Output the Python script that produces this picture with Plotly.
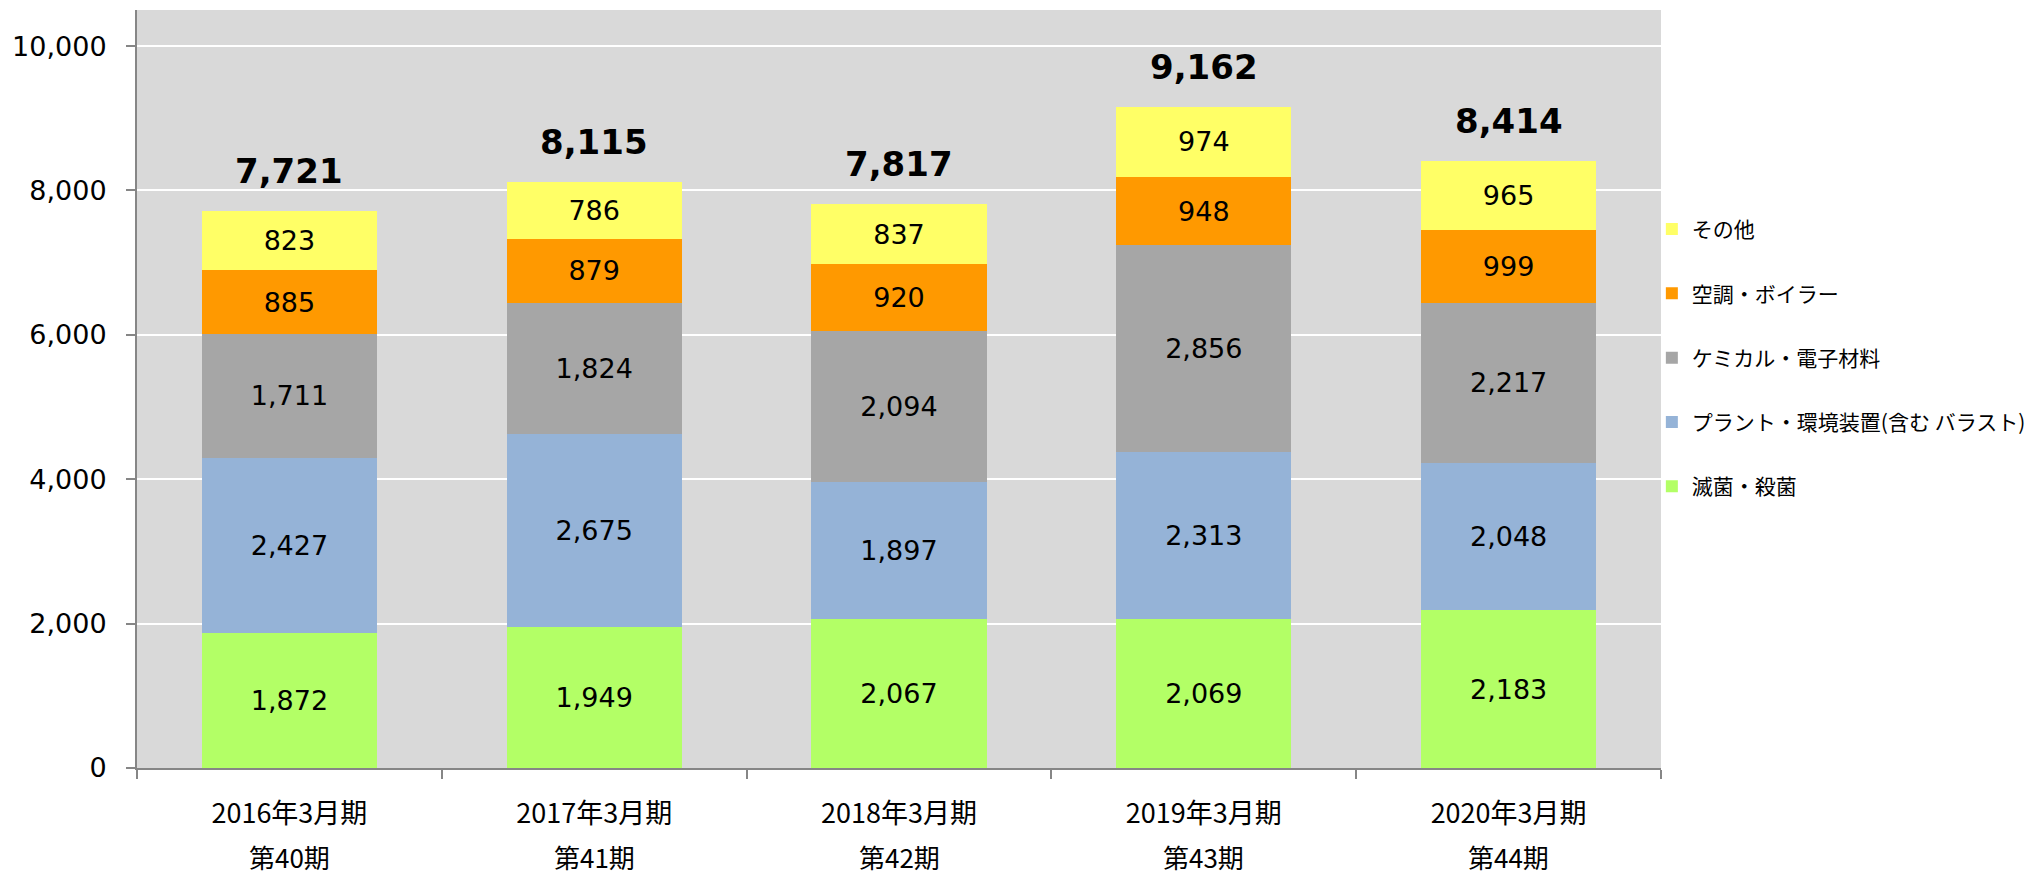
import plotly.graph_objects as go

categories = ["2016年3月期", "2017年3月期", "2018年3月期", "2019年3月期", "2020年3月期"]
periods = ["第40期", "第41期", "第42期", "第43期", "第44期"]

series_names = ["滅菌・殺菌", "プラント・環境装置(含む バラスト)", "ケミカル・電子材料", "空調・ボイラー", "その他"]
sterilization = [1872, 1949, 2067, 2069, 2183]
plant_env = [2427, 2675, 1897, 2313, 2048]
chemical = [1711, 1824, 2094, 2856, 2217]
hvac_boiler = [885, 879, 920, 948, 999]
other = [823, 786, 837, 974, 965]
totals = [7721, 8115, 7817, 9162, 8414]

y_ticks = [0, 2000, 4000, 6000, 8000, 10000]

colors = ["#B3FF66", "#95B3D7", "#A6A6A6", "#FF9900", "#FFFF66"]
series_values = [sterilization, plant_env, chemical, hvac_boiler, other]

fig = go.Figure()
n = len(series_names)
for i, (name, vals, col) in enumerate(zip(series_names, series_values, colors)):
    fig.add_trace(go.Bar(
        x=categories, y=vals, name=name,
        marker=dict(color=col, line=dict(width=0)),
        text=[f"{v:,}" for v in vals],
        textposition="inside", insidetextanchor="middle", textangle=0,
        constraintext="none",
        textfont=dict(family="DejaVu Sans", size=27, color="#000000"),
        legendgroup=f"g{i}", legendrank=n - i,
        hoverinfo="skip",
    ))

annotations = []
for c, t in zip(categories, totals):
    annotations.append(dict(
        x=c, y=t, xref="x", yref="y", text=f"<b>{t:,}</b>", showarrow=False,
        yanchor="middle", yshift=40,
        font=dict(family="DejaVu Sans", size=34, color="#000000"),
    ))
for c, p in zip(categories, periods):
    annotations.append(dict(
        x=c, y=0, xref="x", yref="paper", text=p, showarrow=False,
        yanchor="middle", yshift=-88,
        font=dict(family="Noto Sans CJK JP", size=26, color="#000000"),
    ))

fig.update_layout(
    width=2030, height=866,
    barmode="stack", bargap=0.425,
    paper_bgcolor="#FFFFFF", plot_bgcolor="#D9D9D9",
    margin=dict(l=129, r=377, t=2, b=106, autoexpand=False),
    annotations=annotations,
    legend=dict(
        x=0.994, xanchor="left", y=0.541, yanchor="middle",
        traceorder="grouped", tracegroupgap=34,
        font=dict(family="Noto Sans CJK JP", size=21, color="#000000"),
        bgcolor="rgba(0,0,0,0)", itemwidth=30,
    ),
    showlegend=True,
)
fig.update_yaxes(
    range=[0, 10500], tickvals=y_ticks, tickformat=",",
    showgrid=True, gridcolor="#FFFFFF", gridwidth=2,
    showline=True, linecolor="#868686", linewidth=2,
    ticks="outside", ticklen=9, tickcolor="#868686", tickwidth=2,
    ticklabelstandoff=14,
    tickfont=dict(family="DejaVu Sans", size=27, color="#000000"),
    zeroline=False,
)
fig.update_xaxes(
    showline=True, linecolor="#868686", linewidth=2,
    ticks="outside", ticklen=9, tickcolor="#868686", tickwidth=2,
    tickson="boundaries", ticklabelstandoff=21,
    tickfont=dict(family="Noto Sans CJK JP", size=27, color="#000000"),
    showgrid=False,
)

fig.write_html("out.html")
